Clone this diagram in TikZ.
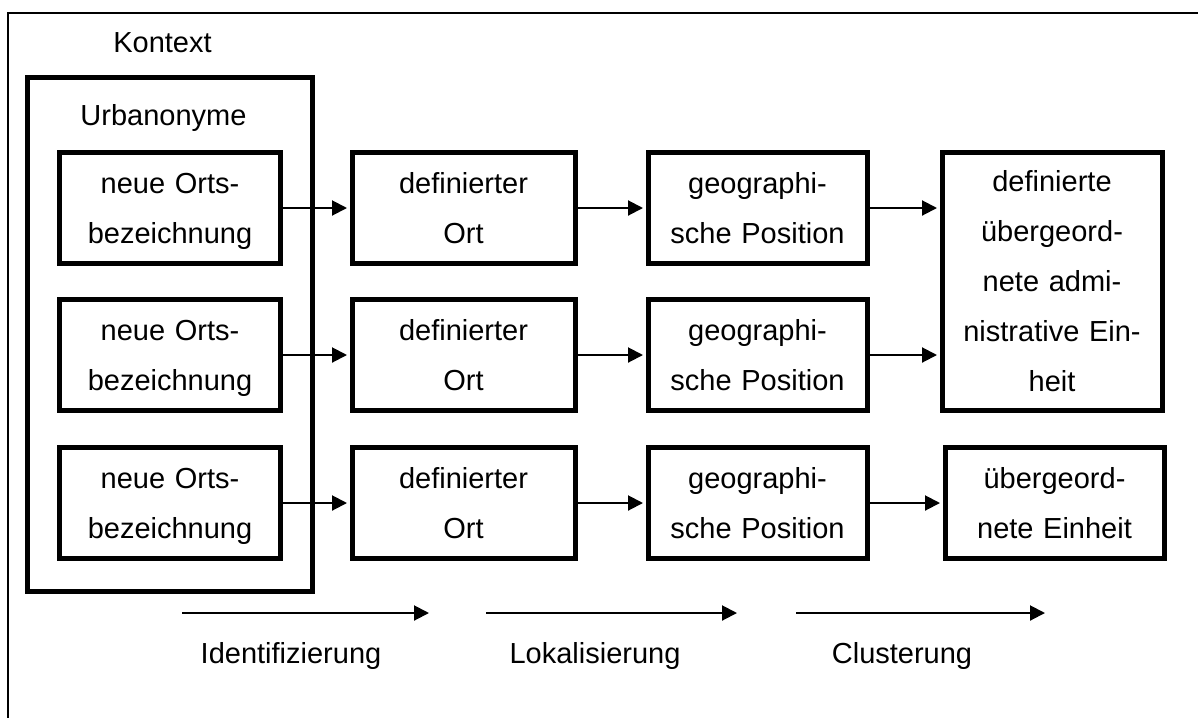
\documentclass[tikz,border=0pt]{standalone}
\usepackage{fontspec}
\setmainfont{Liberation Sans}
\usetikzlibrary{arrows.meta,calc}
\begin{document}
\begin{tikzpicture}[x=1pt,y=-1pt,
  box/.style={draw, line width=5pt, rectangle, inner sep=0pt, text width=210pt, align=center,
              font=\fontsize{29}{50}\selectfont},
  group/.style={draw, line width=5pt, rectangle, inner sep=0pt},
  lbl/.style={font=\fontsize{29}{34}\selectfont, inner sep=0pt, anchor=base},
  conn/.style={line width=2pt, -{Triangle[length=15pt,width=15pt]}, shorten >=2.5pt},
  frame/.style={line width=2pt}]
\useasboundingbox (0,0) rectangle (1198,718);
% outer frame (open to the right and bottom)
\coordinate (fr) at (1198,13);
\coordinate (fo) at (8,13);
\coordinate (fb) at (8,718);
\draw[frame] (fr) -- (fo) -- (fb);
\node[lbl] (kontext) at (162.5,52) {Kontext};
% Urbanonyme group
\node[group, minimum width=285pt, minimum height=514pt] (urb) at (169.5,334) {};
\node[lbl] (urbl) at (163.5,125) {Urbanonyme};
% column 1
\node[box, minimum width=221pt, minimum height=111pt] (a1) at (170,208) {\strut neue Orts-\\\strut bezeichnung};
\node[box, minimum width=221pt, minimum height=111pt] (a2) at (170,355) {\strut neue Orts-\\\strut bezeichnung};
\node[box, minimum width=221pt, minimum height=111pt] (a3) at (170,503) {\strut neue Orts-\\\strut bezeichnung};
% column 2
\node[box, minimum width=223pt, minimum height=111pt] (b1) at (463.5,208) {\strut definierter\\\strut Ort};
\node[box, minimum width=223pt, minimum height=111pt] (b2) at (463.5,355) {\strut definierter\\\strut Ort};
\node[box, minimum width=223pt, minimum height=111pt] (b3) at (463.5,503) {\strut definierter\\\strut Ort};
% column 3
\node[box, minimum width=219pt, minimum height=111pt] (c1) at (757.5,208) {\strut geographi-\\\strut sche Position};
\node[box, minimum width=219pt, minimum height=111pt] (c2) at (757.5,355) {\strut geographi-\\\strut sche Position};
\node[box, minimum width=219pt, minimum height=111pt] (c3) at (757.5,503) {\strut geographi-\\\strut sche Position};
% column 4
\node[box, minimum width=220pt, minimum height=258pt] (d1) at (1052,281)
  {\strut definierte\\\strut übergeord-\\\strut nete admi-\\\strut nistrative Ein-\\\strut heit};
\node[box, minimum width=219pt, minimum height=111pt] (d3) at (1054.5,503) {\strut übergeord-\\\strut nete Einheit};
% connectors
\draw[conn] (a1.east) -- (b1.west);
\draw[conn] (a2.east) -- (b2.west);
\draw[conn] (a3.east) -- (b3.west);
\draw[conn] (b1.east) -- (c1.west);
\draw[conn] (b2.east) -- (c2.west);
\draw[conn] (b3.east) -- (c3.west);
\draw[conn] (c1.east) -- (c1.east -| d1.west);
\draw[conn] (c2.east) -- (c2.east -| d1.west);
\draw[conn] (c3.east) -- (d3.west);
% process arrows
\coordinate (i0) at (182,613);
\coordinate (i1) at (429,613);
\coordinate (l0) at (486,613);
\coordinate (l1) at (737,613);
\coordinate (k0) at (796,613);
\coordinate (k1) at (1045,613);
\draw[conn, shorten >=0pt] (i0) -- (i1);
\draw[conn, shorten >=0pt] (l0) -- (l1);
\draw[conn, shorten >=0pt] (k0) -- (k1);
\node[lbl] (ident) at (291,663) {Identifizierung};
\node[lbl] (lokal) at (595,663) {Lokalisierung};
\node[lbl] (clust) at (902,663) {Clusterung};
\end{tikzpicture}
\end{document}
